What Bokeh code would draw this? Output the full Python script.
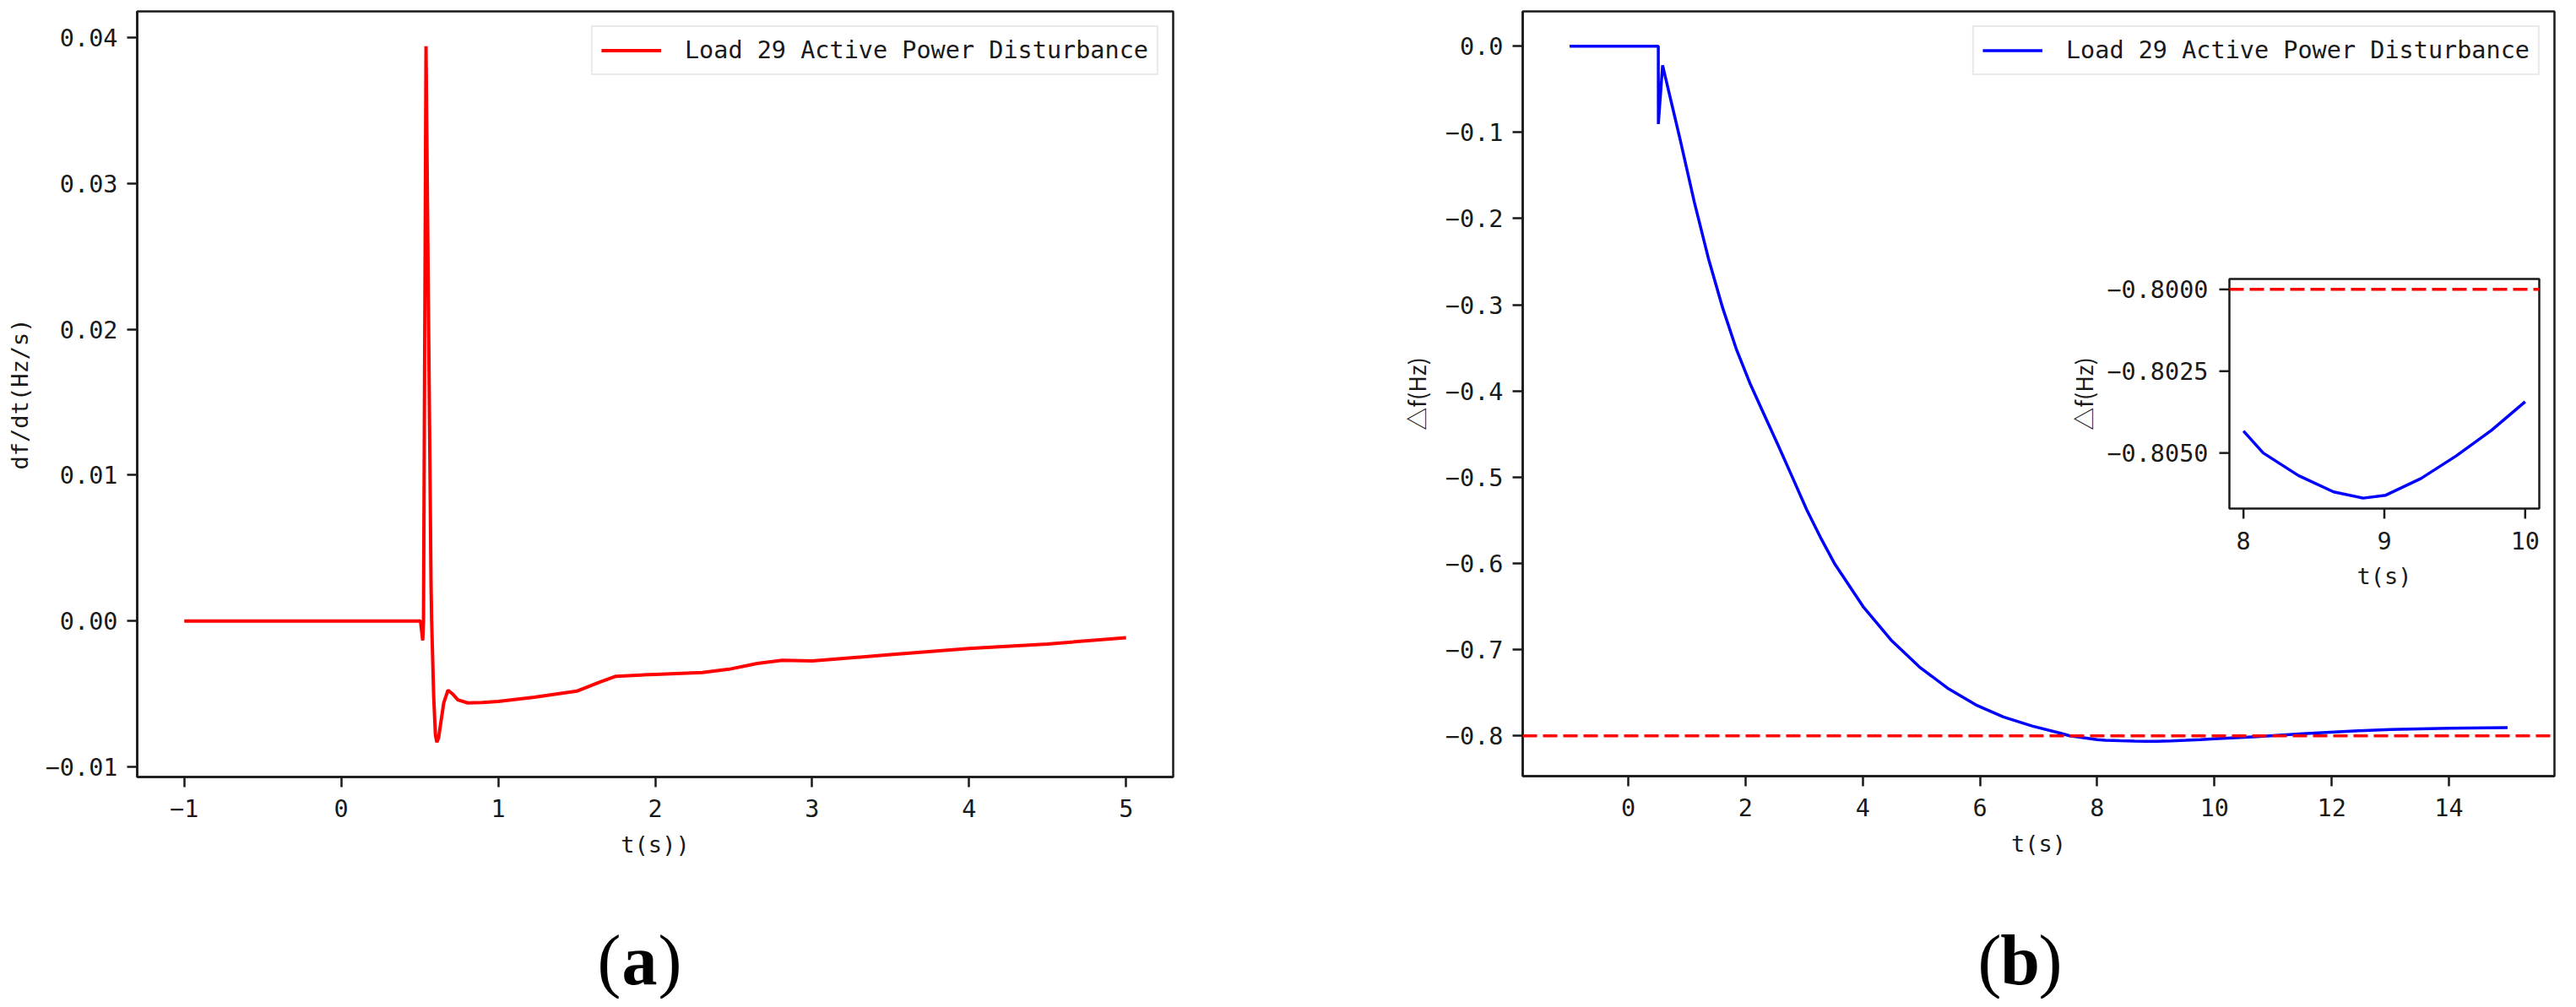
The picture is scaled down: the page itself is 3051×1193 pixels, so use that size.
import numpy as np
from bokeh.plotting import figure
from bokeh.models import Range1d, FixedTicker, CustomJSTickFormatter, Span
from bokeh.layouts import row, column
from bokeh.embed import file_html
from bokeh.resources import INLINE
from bokeh.core.properties import value

# ---------------- data ----------------
LEGEND_TEXT = "Load 29 Active Power Disturbance"

# (a) df/dt after the load-29 active power disturbance
t_a = [-1.0, 0.505, 0.519, 0.524, 0.540, 0.572, 0.576, 0.589, 0.600, 0.609,
       0.620, 0.653, 0.680, 0.710, 0.743, 0.806, 0.90, 1.00, 1.23, 1.50,
       1.65, 1.75, 2.00, 2.30, 2.47, 2.65, 2.81, 3.00, 3.50, 4.00, 4.50, 5.00]
dfdt_a = [0.0, 0.0, -0.00133, 0.0, 0.0394, 0.0025, 0.0, -0.0052, -0.0078, -0.0083,
          -0.0080, -0.0056, -0.00474, -0.0050, -0.0054, -0.00561, -0.00558, -0.00551, -0.00522, -0.0048,
          -0.00417, -0.00378, -0.00365, -0.00353, -0.0033, -0.0029, -0.00269, -0.00273, -0.0023, -0.00188, -0.00157, -0.00114]

# (b) frequency deviation
t_b = [-1.0, 0.513, 0.514, 0.586, 0.888, 1.128, 1.367, 1.608, 1.847, 2.087,
       2.327, 2.567, 2.80, 3.047, 3.30, 3.527, 4.006, 4.486, 4.966, 5.446,
       5.93, 6.40, 6.89, 7.366, 7.533, 8.0, 8.14, 8.39, 8.64, 8.85,
       9.01, 9.26, 9.51, 9.76, 10.0, 10.72, 11.5, 12.45, 13.0, 14.0, 15.0]
df_b = [0.0, 0.0, -0.0903, -0.0222, -0.109, -0.181, -0.246, -0.303, -0.352, -0.3927,
        -0.4286, -0.4644, -0.500, -0.538, -0.5725, -0.601, -0.650, -0.689, -0.720, -0.7446,
        -0.764, -0.778, -0.7886, -0.7968, -0.800, -0.80433, -0.8050, -0.80569, -0.80619, -0.80638,
        -0.80629, -0.80578, -0.80509, -0.80431, -0.80343, -0.801, -0.7975, -0.794, -0.7926, -0.7911, -0.7905]
REF_LEVEL = -0.8

xticks_a = [-1, 0, 1, 2, 3, 4, 5]
yticks_a = [-0.01, 0.0, 0.01, 0.02, 0.03, 0.04]
xticks_b = [0, 2, 4, 6, 8, 10, 12, 14]
yticks_b = [-0.8, -0.7, -0.6, -0.5, -0.4, -0.3, -0.2, -0.1, 0.0]
inset_t = (8.0, 10.0)
xticks_in = [8, 9, 10]
yticks_in = [-0.8050, -0.8025, -0.8000]
panel_letters = ["a", "b"]

# ---------------- style ----------------
FONT = "DejaVu Sans Mono"
CJK = "Noto Sans CJK SC"
TICK_FS = "28.5px"
LABEL_FS = "27px"
LEG_FS = "28.5px"
INK = "#1a1a1a"
LW = 4


def pad(lo, hi, m=0.05):
    s = hi - lo
    return lo - m * s, hi + m * s


def fmt(dec):
    return CustomJSTickFormatter(code="return tick.toFixed(%d).replace('-', '\u2212');" % dec)


def style(p, xticks, yticks, xdec, ydec, xlabel, ylabel, ylabel_font=FONT):
    p.grid.visible = False
    p.outline_line_color = INK
    p.outline_line_width = 2.5
    p.background_fill_color = "white"
    p.border_fill_color = "white"
    p.xaxis.ticker = FixedTicker(ticks=xticks)
    p.yaxis.ticker = FixedTicker(ticks=yticks)
    p.xaxis.formatter = fmt(xdec)
    p.yaxis.formatter = fmt(ydec)
    p.xaxis.axis_label = xlabel
    p.yaxis.axis_label = ylabel
    for ax in (p.xaxis[0], p.yaxis[0]):
        ax.major_tick_out = 12
        ax.major_tick_in = 0
        ax.minor_tick_out = 0
        ax.minor_tick_in = 0
        ax.major_tick_line_width = 2.5
        ax.major_tick_line_color = INK
        ax.axis_line_width = 2.5
        ax.axis_line_color = INK
        ax.major_label_text_font = FONT
        ax.major_label_text_font_size = TICK_FS
        ax.major_label_text_color = INK
        ax.axis_label_text_font = FONT
        ax.axis_label_text_font_size = LABEL_FS
        ax.axis_label_text_font_style = "normal"
        ax.axis_label_text_color = INK
    p.yaxis.axis_label_text_font = ylabel_font
    p.xaxis.major_label_standoff = 14
    p.yaxis.major_label_standoff = 11
    p.xaxis.axis_label_standoff = 14
    p.yaxis.axis_label_standoff = 12


def style_legend(p):
    lg = p.legend[0]
    lg.location = "top_right"
    lg.margin = 17
    lg.padding = 10
    lg.spacing = 0
    lg.glyph_width = 71
    lg.glyph_height = 35
    lg.label_height = 35
    lg.label_standoff = 28
    lg.label_text_font = FONT
    lg.label_text_font_size = LEG_FS
    lg.label_text_color = INK
    lg.border_line_color = "#d4d4d4"
    lg.border_line_width = 2
    lg.background_fill_alpha = 0.9


# ---------------- panel (a) ----------------
FW_A, FH_A = 1227, 907
TOP_H = 1050
xa0, xa1 = pad(min(t_a), max(t_a))
ya0, ya1 = pad(min(dfdt_a), max(dfdt_a))
p_a = figure(frame_width=FW_A, frame_height=FH_A, min_border_left=162, min_border_right=171,
             min_border_top=13, min_border_bottom=TOP_H - 13 - FH_A, x_range=Range1d(xa0, xa1),
             y_range=Range1d(ya0, ya1), output_backend="svg", toolbar_location=None)
p_a.line(t_a, dfdt_a, line_color="#ff0000", line_width=LW, legend_label=LEGEND_TEXT)
style(p_a, xticks_a, yticks_a, 0, 2, "t(s))", "df/dt(Hz/s)")
style_legend(p_a)

# ---------------- panel (b) ----------------
FW_B, FH_B = 1222, 906
xb0, xb1 = pad(min(t_b), max(t_b))
yb0, yb1 = pad(min(min(df_b), REF_LEVEL), max(df_b))
p_b = figure(frame_width=FW_B, frame_height=FH_B, min_border_left=243, min_border_right=8,
             min_border_top=13, min_border_bottom=TOP_H - 13 - FH_B, x_range=Range1d(xb0, xb1),
             y_range=Range1d(yb0, yb1), output_backend="svg", toolbar_location=None)
p_b.line(t_b, df_b, line_color="#0000ff", line_width=3.5, legend_label=LEGEND_TEXT)
p_b.add_layout(Span(location=REF_LEVEL, dimension="width", line_color="#ff0000",
                    line_width=3.5, line_dash="17 7"))
style(p_b, xticks_b, yticks_b, 0, 1, "t(s)", "\u25b3f(Hz)", ylabel_font=CJK)
style_legend(p_b)

# ---------------- inset in (b) ----------------
tb = np.array(t_b)
fb = np.array(df_b)
m = (tb >= inset_t[0]) & (tb <= inset_t[1])
t_in, f_in = tb[m], fb[m]
ix0, ix1 = pad(inset_t[0], inset_t[1])
iy0, iy1 = pad(min(f_in.min(), REF_LEVEL), max(f_in.max(), REF_LEVEL))

IN_L, IN_T, IN_W, IN_H = 837, 317, 367, 272   # inset box in frame pixels
pxx = IN_W / (ix1 - ix0)
pxy = IN_H / (iy1 - iy0)
p_b.extra_x_ranges = {"ix": Range1d(ix0 - IN_L / pxx, ix1 + (FW_B - IN_L - IN_W) / pxx)}
p_b.extra_y_ranges = {"iy": Range1d(iy0 - (FH_B - IN_T - IN_H) / pxy, iy1 + IN_T / pxy)}
kw = dict(x_range_name="ix", y_range_name="iy")

p_b.quad(left=[ix0], right=[ix1], bottom=[iy0], top=[iy1], fill_color="white",
         line_color=INK, line_width=2.5, **kw)
p_b.line([ix0, ix1], [REF_LEVEL, REF_LEVEL], line_color="#ff0000", line_width=3.5,
         line_dash="17 7", **kw)
p_b.line(t_in, f_in, line_color="#0000ff", line_width=3.5, **kw)

TL = 12
p_b.segment(x0=[ix0 - TL / pxx] * len(yticks_in), x1=[ix0] * len(yticks_in),
            y0=yticks_in, y1=yticks_in, line_color=INK, line_width=2.5, **kw)
p_b.text(x=[ix0 - 25 / pxx] * len(yticks_in), y=yticks_in,
         text=[("%.4f" % v).replace("-", "\u2212") for v in yticks_in],
         text_align="right", text_baseline="middle", text_font=value(FONT),
         text_font_size=TICK_FS, text_color=INK, **kw)
p_b.segment(x0=xticks_in, x1=xticks_in, y0=[iy0] * len(xticks_in),
            y1=[iy0 - TL / pxy] * len(xticks_in), line_color=INK, line_width=2.5, **kw)
p_b.text(x=xticks_in, y=[iy0 - 38 / pxy] * len(xticks_in), text=[str(v) for v in xticks_in],
         text_align="center", text_baseline="middle", text_font=value(FONT),
         text_font_size=TICK_FS, text_color=INK, **kw)
p_b.text(x=[(ix0 + ix1) / 2], y=[iy0 - 80 / pxy], text=["t(s)"], text_align="center",
         text_baseline="middle", text_font=value(FONT), text_font_size=LABEL_FS,
         text_color=INK, **kw)
p_b.text(x=[ix0 - 173 / pxx], y=[(iy0 + iy1) / 2], text=["\u25b3f(Hz)"], angle=np.pi / 2,
         text_align="center", text_baseline="middle", text_font=value(CJK),
         text_font_size=LABEL_FS, text_color=INK, **kw)

# ---------------- panel tags strip ----------------
TAG_W = 1560 + 1473
TAG_H = 133
tags = figure(frame_width=TAG_W, frame_height=TAG_H, min_border=0, x_range=Range1d(0, TAG_W),
              y_range=Range1d(0, TAG_H), x_axis_type=None, y_axis_type=None,
              output_backend="svg", toolbar_location=None)
tags.grid.visible = False
tags.outline_line_color = None
TAG_FS = "84px"
tag_x = np.array([757, 2392])     # tag centres (page pixels minus the 8px margin)
tag_y = [TAG_H - 87] * 2          # baseline
HALF = 22                         # half width of the bold letter
tfont = value("Liberation Serif")
tags.text(x=tag_x - HALF, y=tag_y, text=["("] * 2, text_align="right",
          text_baseline="alphabetic", text_font=tfont, text_font_size=TAG_FS, text_color="black")
tags.text(x=tag_x, y=tag_y, text=panel_letters, text_align="center",
          text_baseline="alphabetic", text_font=tfont, text_font_style="bold",
          text_font_size=TAG_FS, text_color="black")
tags.text(x=tag_x + HALF, y=tag_y, text=[")"] * 2, text_align="left",
          text_baseline="alphabetic", text_font=tfont, text_font_size=TAG_FS, text_color="black")

layout = column(row(p_a, p_b), tags)
open("out.html", "w").write(file_html(layout, INLINE))
